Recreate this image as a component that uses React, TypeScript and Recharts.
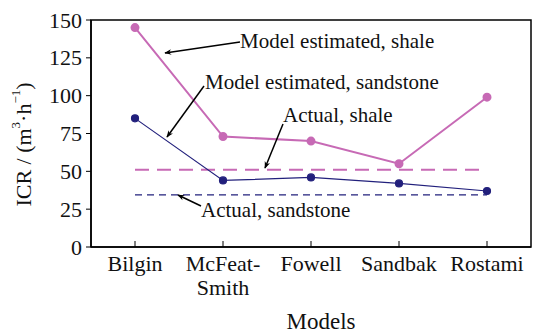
import { LineChart, Line, XAxis, YAxis, ReferenceLine } from "recharts";

const MODELS = ["Bilgin", "McFeat-Smith", "Fowell", "Sandbak", "Rostami"];
const SHALE_EST = [145, 73, 70, 55, 99];
const SANDSTONE_EST = [85, 44, 46, 42, 37];
const ACTUAL_SHALE = 51;
const ACTUAL_SANDSTONE = 34.5;
const Y_TICKS = [0, 25, 50, 75, 100, 125, 150];

const PINK = "#c76ab5";
const NAVY = "#22207c";
const FONT = "Liberation Serif";

// plot box (layout only)
const W = 533, H = 335;
const M = { top: 20, right: 2, left: 91, bottom: 88 };

const data = MODELS.map((m, i) => ({ model: m, shale: SHALE_EST[i], sandstone: SANDSTONE_EST[i] }));

// x tick: inward tick mark + label (McFeat-Smith wraps after the hyphen)
function XTick(props: any) {
  const { x, y, payload } = props;
  const lines = payload.value === "McFeat-Smith" ? ["McFeat-", "Smith"] : [payload.value];
  return (
    <g>
      <line x1={x} x2={x} y1={y - 8} y2={y - 14} stroke="#000" strokeWidth={1} />
      {lines.map((l, i) => (
        <text key={i} x={x} y={y + 16 + i * 24} textAnchor="middle" fontSize={22} style={{ fontFamily: FONT }} fill="#111">
          {l}
        </text>
      ))}
    </g>
  );
}

function YTick(props: any) {
  const { x, y, payload } = props;
  return (
    <text x={x} y={y} textAnchor="end" dominantBaseline="central" fontSize={22} style={{ fontFamily: FONT }} fill="#111">
      {payload.value}
    </text>
  );
}

function YTitle(props: any) {
  const { viewBox } = props;
  const cx = 23;
  const cy = viewBox.y + viewBox.height / 2 + 11;
  return (
    <text x={cx} y={cy} transform={`rotate(-90 ${cx} ${cy})`} textAnchor="middle" dominantBaseline="central" fontSize={22} style={{ fontFamily: FONT }} fill="#111">
      ICR / (m<tspan dy={-8} fontSize={13}>3</tspan><tspan dy={8}>·h</tspan><tspan dy={-8} fontSize={13}>−1</tspan><tspan dy={8}>)</tspan>
    </text>
  );
}

function XTitle(props: any) {
  const { viewBox } = props;
  return (
    <text x={viewBox.x + viewBox.width / 2 + 10} y={329} textAnchor="middle" fontSize={23} style={{ fontFamily: FONT }} fill="#111">
      Models
    </text>
  );
}

function Arrow({ x1, y1, x2, y2 }: { x1: number; y1: number; x2: number; y2: number }) {
  return <line x1={x1} y1={y1} x2={x2} y2={y2} stroke="#000" strokeWidth={1.5} markerEnd="url(#ah)" />;
}

const note = { fontFamily: FONT };

export default function App() {
  return (
    <div style={{ position: "absolute", left: 0, top: 0, width: W, height: H, background: "#fff", fontFamily: FONT }}>
      <LineChart width={W} height={H} data={data} margin={{ top: M.top, right: M.right, bottom: 0, left: 0 }} style={{ fontFamily: FONT }}>
        <XAxis
          dataKey="model"
          height={M.bottom}
          padding={{ left: 44, right: 44 }}
          tickSize={0}
          tickMargin={8}
          tick={<XTick />}
          axisLine={{ stroke: "#000", strokeWidth: 1.5 }}
          interval={0}
          label={<XTitle />}
        />
        <YAxis
          width={M.left}
          domain={[0, 150]}
          ticks={Y_TICKS}
          interval={0}
          tickSize={5}
          tickMargin={4}
          tick={<YTick />}
          tickLine={{ stroke: "#000" }}
          axisLine={{ stroke: "#000", strokeWidth: 1.5 }}
          label={<YTitle />}
        />
        <ReferenceLine
          segment={[{ x: MODELS[0], y: ACTUAL_SHALE }, { x: MODELS[4], y: ACTUAL_SHALE }]}
          stroke={PINK}
          strokeWidth={2}
          strokeDasharray="14 8"
        />
        <ReferenceLine
          segment={[{ x: MODELS[0], y: ACTUAL_SANDSTONE }, { x: MODELS[4], y: ACTUAL_SANDSTONE }]}
          stroke={NAVY}
          strokeWidth={1.2}
          strokeDasharray="7 5"
        />
        <Line dataKey="shale" stroke={PINK} strokeWidth={2} dot={{ r: 3.5, fill: PINK, stroke: PINK }} isAnimationActive={false} />
        <Line dataKey="sandstone" stroke={NAVY} strokeWidth={1.2} dot={{ r: 3.5, fill: NAVY, stroke: NAVY }} isAnimationActive={false} />
      </LineChart>
      {/* frame + annotations */}
      <svg width={W} height={H} style={{ position: "absolute", left: 0, top: 0, pointerEvents: "none" }}>
        <defs>
          <marker id="ah" viewBox="0 0 10 10" refX={9} refY={5} markerWidth={9} markerHeight={7} orient="auto" markerUnits="userSpaceOnUse">
            <path d="M0,1 L10,5 L0,9 L3,5 Z" fill="#000" />
          </marker>
        </defs>
        <rect x={M.left} y={M.top} width={W - M.left - M.right} height={H - M.top - M.bottom} fill="none" stroke="#000" strokeWidth={1.5} />
        <Arrow x1={240} y1={42} x2={165} y2={53} />
        <text x={240} y={48} fontSize={21} style={note} fill="#111">Model estimated, shale</text>
        <Arrow x1={204} y1={86} x2={167} y2={137} />
        <text x={205} y={89} fontSize={21} style={note} fill="#111">Model estimated, sandstone</text>
        <Arrow x1={283} y1={124} x2={265} y2={168} />
        <text x={283} y={122} fontSize={21} style={note} fill="#111">Actual, shale</text>
        <Arrow x1={201} y1={206} x2={178} y2={195} />
        <text x={201} y={217} fontSize={21} style={note} fill="#111">Actual, sandstone</text>
      </svg>
    </div>
  );
}
